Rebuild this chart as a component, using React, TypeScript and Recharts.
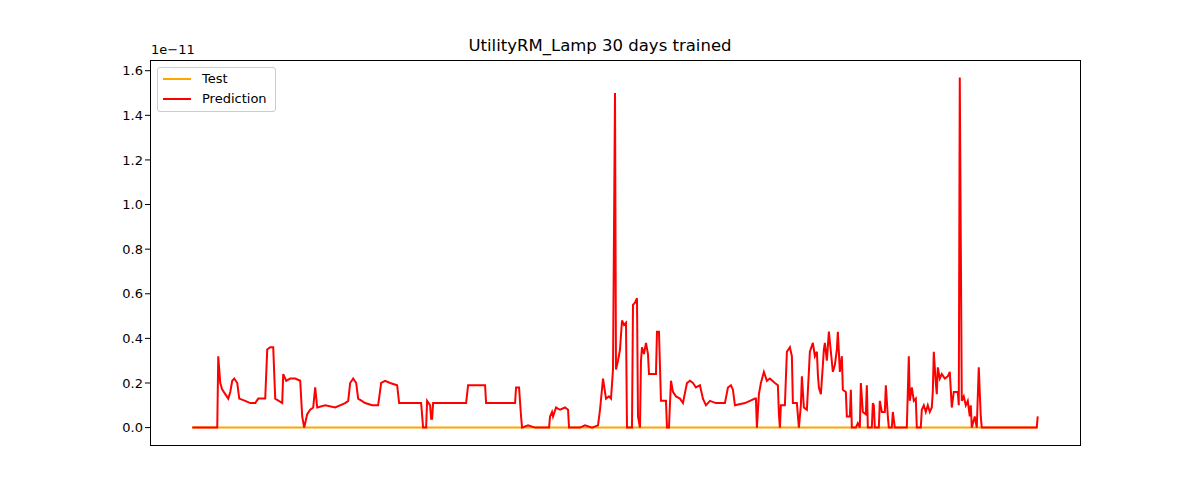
import React from "react";
import { LineChart, Line, XAxis, YAxis } from "recharts";

const chartTitle = "UtilityRM_Lamp 30 days trained";
const yTicks = [0, 0.2, 0.4, 0.6, 0.8, 1.0, 1.2, 1.4, 1.6];
// [time position, prediction (×1e-11)]
const predictionPoints: [number, number][] = [
  [192, 0], [217, 0], [218, 0.32], [220, 0.2], [222, 0.17], [225, 0.15], [228, 0.13], [230, 0.16], [232, 0.21], [234, 0.22], [237, 0.2], [239, 0.13],
  [245, 0.12], [250, 0.11], [255, 0.11], [258, 0.13], [265, 0.13], [267, 0.35], [270, 0.36], [273, 0.36], [275, 0.13], [282, 0.11],
  [283, 0.24], [286, 0.21], [290, 0.22], [295, 0.22], [300, 0.21], [302, 0.05], [304, 0], [307, 0.06], [310, 0.08], [313, 0.09],
  [315, 0.18], [317, 0.09], [325, 0.1], [335, 0.09], [345, 0.11], [348, 0.12], [350, 0.2], [353, 0.22], [356, 0.2], [358, 0.13],
  [365, 0.11], [372, 0.1], [378, 0.1], [381, 0.2], [385, 0.21], [390, 0.2], [397, 0.19], [399, 0.11], [410, 0.11], [421, 0.11],
  [423, 0], [426, 0], [427, 0.12], [430, 0.1], [431, 0.04], [432, 0.04], [433, 0.11], [440, 0.11], [450, 0.11], [460, 0.11], [466, 0.11],
  [468, 0.19], [475, 0.19], [485, 0.19], [486, 0.11], [500, 0.11], [515, 0.11], [516, 0.18], [519, 0.18], [521, 0.05], [522, 0],
  [528, 0.01], [535, 0], [549, 0], [550, 0.05], [552, 0.07], [553, 0.05], [556, 0.09], [560, 0.08], [565, 0.09], [568, 0.08], [569, 0],
  [580, 0], [585, 0.01], [592, 0], [598, 0.01], [600, 0.08], [603, 0.22], [606, 0.13], [609, 0.14], [611, 0.13], [613, 0.26],
  [615, 1.5], [616, 0.26], [618, 0.3], [620, 0.35], [622, 0.48], [624, 0.46], [626, 0.47], [627, 0], [632, 0], [633, 0.55],
  [635, 0.56], [637, 0.58], [638, 0.05], [640, 0], [641, 0.3], [642, 0.36], [644, 0.33], [646, 0.38], [648, 0.33], [649, 0.24],
  [652, 0.24], [656, 0.24], [657, 0.43], [659, 0.43], [661, 0.12], [666, 0.12], [667, 0], [669, 0], [671, 0.21], [673, 0.16],
  [676, 0.14], [680, 0.13], [683, 0.11], [687, 0.2], [690, 0.21], [693, 0.2], [696, 0.18], [700, 0.19], [703, 0.13], [706, 0.1],
  [710, 0.12], [716, 0.11], [725, 0.11], [728, 0.18], [731, 0.19], [733, 0.17], [735, 0.1], [745, 0.11], [750, 0.12], [755, 0.13],
  [756, 0.13], [757, 0], [759, 0.15], [761, 0.2], [764, 0.25], [767, 0.21], [770, 0.22], [775, 0.2], [778, 0.19], [779, 0.06],
  [780, 0], [781, 0.1], [785, 0.1], [787, 0.34], [790, 0.36], [792, 0.32], [793, 0.11], [797, 0.11], [799, 0], [801, 0.1],
  [802, 0.23], [804, 0.09], [807, 0.08], [809, 0.25], [810, 0.34], [813, 0.38], [815, 0.32], [817, 0.34], [818, 0.24], [819, 0.18],
  [821, 0.15], [823, 0.28], [824, 0.35], [825, 0.38], [827, 0.3], [829, 0.43], [831, 0.34], [833, 0.25], [835, 0.28], [837, 0.35],
  [838, 0.43], [840, 0.25], [842, 0.32], [843, 0.17], [846, 0.16], [847, 0.05], [850, 0.05], [851, 0.17], [852, 0], [856, 0],
  [858, 0.02], [860, 0], [861, 0.2], [863, 0.07], [866, 0.06], [867, 0.19], [868, 0], [872, 0], [873, 0.11], [874, 0.1], [875, 0],
  [879, 0], [880, 0.12], [882, 0.07], [885, 0.07], [886, 0.19], [888, 0.05], [889, 0], [892, 0], [893, 0.07], [895, 0], [907, 0],
  [909, 0.32], [910, 0.12], [912, 0.18], [914, 0.12], [916, 0.13], [917, 0], [921, 0], [922, 0.08], [924, 0.1], [926, 0.07],
  [928, 0.1], [930, 0.07], [932, 0.09], [933, 0.16], [934, 0.34], [936, 0.2], [937, 0.15], [938, 0.27], [940, 0.22], [942, 0.24],
  [945, 0.22], [948, 0.23], [950, 0.25], [952, 0.09], [954, 0.16], [958, 0.16], [959, 0.1], [960, 1.57], [962, 0.12], [964, 0.14],
  [966, 0.1], [968, 0.12], [970, 0.05], [971, 0.1], [972, 0], [975, 0.05], [977, 0], [979, 0.27], [981, 0.05], [982, 0],
  [1037, 0], [1038, 0.05],
];
const timeValues = predictionPoints.map((p) => p[0]);
const predictionValues = predictionPoints.map((p) => p[1]);
const testValues = timeValues.map(() => 0);

const data = timeValues.map((t, i) => ({ t, test: testValues[i], pred: predictionValues[i] }));

const font = "'DejaVu Sans', sans-serif";

export default function App() {
  return (
    <div style={{ position: "absolute", left: 0, top: 0, width: 1200, height: 500, background: "#fff", fontFamily: font }}>
      <LineChart width={1200} height={500} data={data} margin={{ top: 60, right: 120, bottom: 55, left: 100 }}>
        <XAxis dataKey="t" type="number" domain={[149.7, 1080.3]} hide />
        <YAxis
          type="number"
          domain={[-0.078, 1.648]}
          ticks={yTicks}
          width={50}
          tickFormatter={(v: number) => v.toFixed(1)}
          tick={{ fontSize: 13, fill: "#000", fontFamily: font }}
          tickLine={{ stroke: "#000" }}
          tickSize={5}
          axisLine={false}
          allowDataOverflow
        />
        <Line dataKey="test" stroke="#ffa500" strokeWidth={2} dot={false} isAnimationActive={false} />
        <Line dataKey="pred" stroke="#ff0000" strokeWidth={2} dot={false} isAnimationActive={false} />
      </LineChart>
      <div style={{ position: "absolute", left: 150, top: 60, width: 931, height: 386, boxSizing: "border-box", border: "1px solid #000", pointerEvents: "none" }} />
      <div style={{ position: "absolute", left: 0, width: 1200, top: 36, textAlign: "center", fontSize: 16.5, color: "#000" }}>{chartTitle}</div>
      <div style={{ position: "absolute", left: 151, top: 42, fontSize: 13, color: "#000" }}>1e−11</div>
      <div style={{ position: "absolute", left: 157, top: 67, width: 119, height: 45, boxSizing: "border-box", border: "1px solid #ccc", borderRadius: 3, background: "rgba(255,255,255,0.8)", fontSize: 13, color: "#000" }}>
        {[["Test", "#ffa500"], ["Prediction", "#ff0000"]].map(([label, c], i) => (
          <div key={label} style={{ position: "absolute", left: 5, top: 3 + i * 20, display: "flex", alignItems: "center" }}>
            <div style={{ width: 28, height: 2, background: c, marginRight: 11 }} />
            <span>{label}</span>
          </div>
        ))}
      </div>
    </div>
  );
}
